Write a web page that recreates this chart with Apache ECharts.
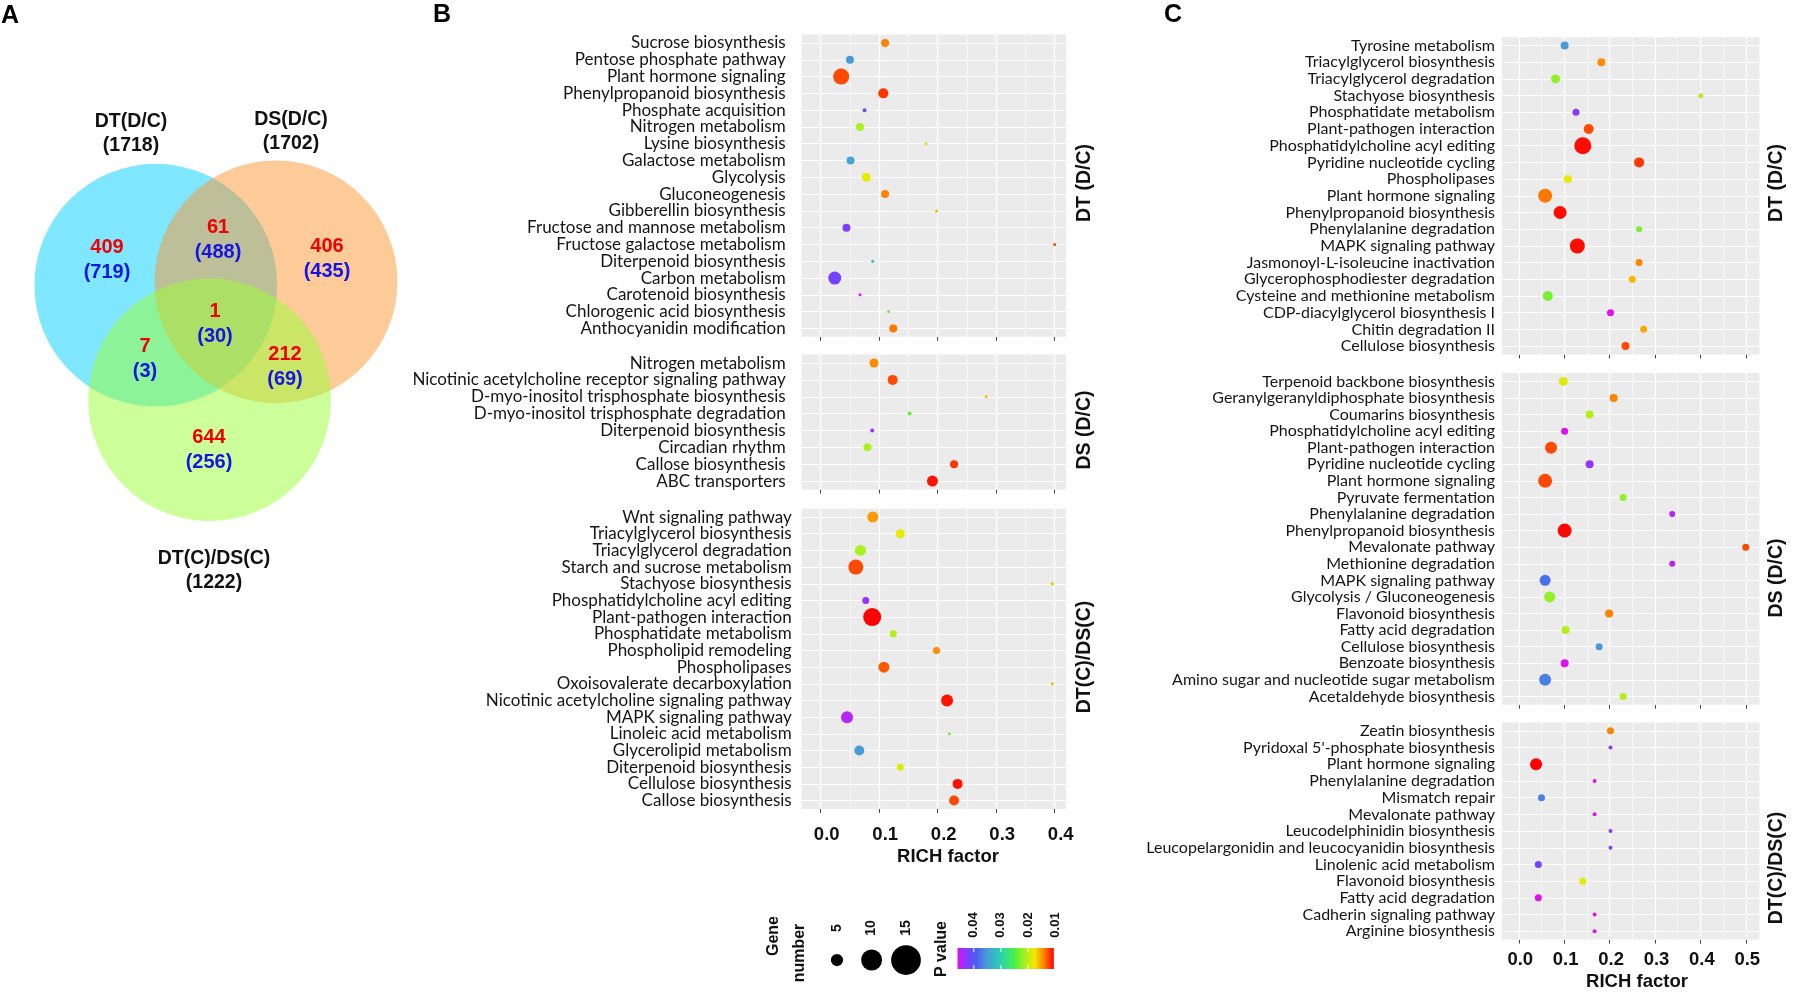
<!DOCTYPE html>
<html><head><meta charset="utf-8">
<script src="https://cdn.jsdelivr.net/npm/echarts@6/dist/echarts.min.js"></script>
<style>html,body{margin:0;padding:0;background:#fff}#c{width:1796px;height:994px}</style>
</head><body><div id="c"></div>
<script>
// ================= DATA =================
const vennSets = ['DT(D/C)', 'DS(D/C)', 'DT(C)/DS(C)'];
const vennTotals = [1718, 1702, 1222];
// regions: DT only, DT∩DS, DS only, DT∩DTC, all three, DS∩DTC, DTC only
const vennRed = [409, 61, 406, 7, 1, 212, 644];
const vennBlue = [719, 488, 435, 3, 30, 69, 256];

// Panel B - DT (D/C)
const bDTCats = ['Sucrose biosynthesis','Pentose phosphate pathway','Plant hormone signaling','Phenylpropanoid biosynthesis','Phosphate acquisition','Nitrogen metabolism','Lysine biosynthesis','Galactose metabolism','Glycolysis','Gluconeogenesis','Gibberellin biosynthesis','Fructose and mannose metabolism','Fructose galactose metabolism','Diterpenoid biosynthesis','Carbon metabolism','Carotenoid biosynthesis','Chlorogenic acid biosynthesis','Anthocyanidin modification'];
const bDTRich = [0.110,0.050,0.035,0.107,0.075,0.067,0.180,0.051,0.078,0.110,0.198,0.044,0.400,0.089,0.024,0.067,0.116,0.124];
const bDTGenes = [6,6,14,8,2,6,1,6,7,6,1,6,1,1,11,1,1,6];
const bDTP = [0.0142,0.0354,0.0125,0.012,0.0403,0.021,0.017,0.0343,0.018,0.0142,0.016,0.0425,0.0125,0.032,0.042,0.046,0.024,0.0138];

// Panel B - DS (D/C)
const bDSCats = ['Nitrogen metabolism','Nicotinic acetylcholine receptor signaling pathway','D-myo-inositol trisphosphate biosynthesis','D-myo-inositol trisphosphate degradation','Diterpenoid biosynthesis','Circadian rhythm','Callose biosynthesis','ABC transporters'];
const bDSRich = [0.091,0.123,0.283,0.152,0.088,0.080,0.228,0.191];
const bDSGenes = [7,8,1,2,2,6,6,9];
const bDSP = [0.0145,0.0125,0.016,0.024,0.0435,0.021,0.012,0.011];

// Panel B - DT(C)/DS(C)
const bCCats = ['Wnt signaling pathway','Triacylglycerol biosynthesis','Triacylglycerol degradation','Starch and sucrose metabolism','Stachyose biosynthesis','Phosphatidylcholine acyl editing','Plant-pathogen interaction','Phosphatidate metabolism','Phospholipid remodeling','Phospholipases','Oxoisovalerate decarboxylation','Nicotinic acetylcholine signaling pathway','MAPK signaling pathway','Linoleic acid metabolism','Glycerolipid metabolism','Diterpenoid biosynthesis','Cellulose biosynthesis','Callose biosynthesis'];
const bCRich = [0.089,0.136,0.068,0.060,0.396,0.077,0.088,0.124,0.198,0.108,0.396,0.216,0.045,0.220,0.066,0.136,0.234,0.228];
const bCGenes = [9,7,9,13,1,5,16,5,5,9,1,10,10,1,8,5,8,8];
const bCP = [0.015,0.018,0.021,0.0125,0.016,0.0435,0.0105,0.0205,0.0145,0.013,0.016,0.011,0.0446,0.024,0.0354,0.0185,0.011,0.0125];

// Panel C - DT (D/C)
const cDTCats = ['Tyrosine metabolism','Triacylglycerol biosynthesis','Triacylglycerol degradation','Stachyose biosynthesis','Phosphatidate metabolism','Plant-pathogen interaction','Phosphatidylcholine acyl editing','Pyridine nucleotide cycling','Phospholipases','Plant hormone signaling','Phenylpropanoid biosynthesis','Phenylalanine degradation','MAPK signaling pathway','Jasmonoyl-L-isoleucine inactivation','Glycerophosphodiester degradation','Cysteine and methionine metabolism','CDP-diacylglycerol biosynthesis I','Chitin degradation II','Cellulose biosynthesis'];
const cDTRich = [0.101,0.182,0.081,0.401,0.126,0.154,0.141,0.265,0.108,0.058,0.091,0.265,0.129,0.265,0.250,0.064,0.202,0.275,0.235];
const cDTGenes = [6,6,7,3,5,8,15,8,6,12,11,4,13,5,5,8,5,5,6];
const cDTP = [0.0354,0.0145,0.022,0.021,0.043,0.0125,0.0108,0.012,0.018,0.0138,0.0108,0.023,0.0108,0.0142,0.016,0.023,0.046,0.0155,0.0125];

// Panel C - DS (D/C)
const cDSCats = ['Terpenoid backbone biosynthesis','Geranylgeranyldiphosphate biosynthesis','Coumarins biosynthesis','Phosphatidylcholine acyl editing','Plant-pathogen interaction','Pyridine nucleotide cycling','Plant hormone signaling','Pyruvate fermentation','Phenylalanine degradation','Phenylpropanoid biosynthesis','Mevalonate pathway','Methionine degradation','MAPK signaling pathway','Glycolysis / Gluconeogenesis','Flavonoid biosynthesis','Fatty acid degradation','Cellulose biosynthesis','Benzoate biosynthesis','Amino sugar and nucleotide sugar metabolism','Acetaldehyde biosynthesis'];
const cDSRich = [0.098,0.209,0.156,0.101,0.071,0.156,0.058,0.230,0.338,0.101,0.500,0.338,0.058,0.068,0.199,0.103,0.177,0.101,0.058,0.230];
const cDSGenes = [7,6,6,5,10,6,12,5,4,12,5,4,9,9,6,6,5,6,10,5];
const cDSP = [0.0185,0.0142,0.0205,0.046,0.0125,0.0435,0.0125,0.022,0.0446,0.0106,0.0125,0.0446,0.038,0.022,0.0142,0.0205,0.0354,0.046,0.037,0.0205];

// Panel C - DT(C)/DS(C)
const cCCats = ['Zeatin biosynthesis',"Pyridoxal 5'-phosphate biosynthesis",'Plant hormone signaling','Phenylalanine degradation','Mismatch repair','Mevalonate pathway','Leucodelphinidin biosynthesis','Leucopelargonidin and leucocyanidin biosynthesis','Linolenic acid metabolism','Flavonoid biosynthesis','Fatty acid degradation','Cadherin signaling pathway','Arginine biosynthesis'];
const cCRich = [0.202,0.202,0.038,0.167,0.050,0.167,0.202,0.202,0.043,0.141,0.043,0.167,0.167];
const cCGenes = [5,2,10,2,5,2,2,2,5,5,5,2,2];
const cCP = [0.0142,0.0435,0.0105,0.046,0.037,0.046,0.043,0.043,0.042,0.018,0.046,0.046,0.046];

const bTicks = [0, 0.1, 0.2, 0.3, 0.4];
const cTicks = [0, 0.1, 0.2, 0.3, 0.4, 0.5];
const sizeBreaks = [5, 10, 15];
const pBreaks = [0.04, 0.03, 0.02, 0.01];
const stripLabels = ['DT (D/C)', 'DS (D/C)', 'DT(C)/DS(C)'];

// ================= STYLE / LAYOUT =================
const P_MIN = 0.0105, P_MAX = 0.046;
const pColors = ['#FF0000','#FF7F00','#F0E800','#A8F020','#50F040','#30E090','#30C0C0','#4A9BD8','#4A60F0','#7B3FFF','#E010F0'];
const BOLD = "'Liberation Sans Narrow', 'Liberation Sans', Arial, sans-serif";
const SANS = "'Liberation Sans', Arial, sans-serif";
const symSize = v => 2 + v[2];

const panels = [
  {cats:bDTCats, rich:bDTRich, genes:bDTGenes, p:bDTP, left:801.7, width:264.3, top:34.6, height:302.2, min:-0.0325, max:0.4193, ticks:bTicks, showX:false, fs:17, ym:16, xm:17, pad:12},
  {cats:bDSCats, rich:bDSRich, genes:bDSGenes, p:bDSP, left:801.7, width:264.3, top:354.6, height:134.9, min:-0.0325, max:0.4193, ticks:bTicks, showX:false, fs:17, ym:16, xm:17, pad:12},
  {cats:bCCats, rich:bCRich, genes:bCGenes, p:bCP, left:801.7, width:264.3, top:508.7, height:300.2, min:-0.0325, max:0.4193, ticks:bTicks, showX:true, fs:17, ym:10, xm:17, pad:12},
  {cats:cDTCats, rich:cDTRich, genes:cDTGenes, p:cDTP, left:1502, width:257.4, top:37.2, height:317.2, min:-0.037, max:0.530, ticks:cTicks, showX:false, fs:16, ym:7, xm:11, pad:3},
  {cats:cDSCats, rich:cDSRich, genes:cDSGenes, p:cDSP, left:1502, width:257.4, top:373.1, height:331.6, min:-0.037, max:0.530, ticks:cTicks, showX:false, fs:16, ym:7, xm:11, pad:3},
  {cats:cCCats, rich:cCRich, genes:cCGenes, p:cCP, left:1502, width:257.4, top:722.5, height:217.1, min:-0.037, max:0.530, ticks:cTicks, showX:true, fs:16, ym:7, xm:11, pad:3}
];

function gridLines(p) {
  const d = [];
  p.ticks.forEach(v => d.push({xAxis: v, lineStyle:{width:1.3}}));
  p.ticks.forEach(v => { if (v + 0.05 < p.max) d.push({xAxis: +(v + 0.05).toFixed(2), lineStyle:{width:0.6}}); });
  p.cats.forEach(c => d.push({yAxis: c, lineStyle:{width:1.1}}));
  return d;
}

const option = {
  animation: false,
  backgroundColor: '#fff',
  grid: panels.map(p => ({left:p.left, top:p.top, width:p.width, height:p.height, show:true, backgroundColor:'#EBEBEB', borderWidth:0, containLabel:false})),
  xAxis: panels.map((p, i) => ({
    type:'value', gridIndex:i, min:p.min, max:p.max,
    axisLine:{show:false},
    axisTick:{show:true, customValues:p.ticks, length:4, lineStyle:{color:'#444', width:1}},
    axisLabel:{show:p.showX, customValues:p.ticks, formatter:v => v.toFixed(1), margin:p.xm, padding:[0,0,0,p.pad], fontFamily:BOLD, fontWeight:'bold', fontSize:18.5, color:'#111'},
    splitLine:{show:false}
  })),
  yAxis: panels.map((p, i) => ({
    type:'category', gridIndex:i, data:p.cats, inverse:true,
    axisLine:{show:false},
    axisTick:{show:true, alignWithLabel:true, length:4, lineStyle:{color:'#444', width:1}},
    axisLabel:{interval:0, margin:p.ym, fontFamily:'Lato', fontSize:p.fs, color:'#151515'},
    splitLine:{show:false}
  })),
  visualMap: {type:'continuous', show:false, dimension:3, min:P_MIN, max:P_MAX, seriesIndex:[0,1,2,3,4,5], inRange:{color:pColors}},
  series: panels.map((p, i) => ({
    type:'scatter', xAxisIndex:i, yAxisIndex:i, z:3,
    data: p.cats.map((c, j) => [p.rich[j], c, p.genes[j], p.p[j]]),
    symbolSize: symSize,
    itemStyle:{opacity:1},
    markLine:{silent:true, z:1, symbol:['none','none'], label:{show:false}, animation:false,
      lineStyle:{color:'#ffffff', type:'solid'}, data: gridLines(p)}
  })),
  graphic: []
};

// ---------- Venn (panel A) ----------
const G = option.graphic;
const circ = [
  {cx:155.8, cy:285.2, r:121.4, fill:'rgba(0,208,255,0.5)'},
  {cx:276, cy:281.8, r:121.4, fill:'rgba(251,151,49,0.5)'},
  {cx:209.6, cy:399.7, r:121.4, fill:'rgba(153,255,51,0.5)'}
];
circ.forEach(c => G.push({type:'circle', shape:{cx:c.cx, cy:c.cy, r:c.r}, style:{fill:c.fill}, silent:true}));
const txt = (x, y, text, font, color, size, rot, align) => G.push({type:'text', x:x, y:y, rotation:rot||0, silent:true, z:10,
  style:{text:text, x:0, y:0, align:align||'center', verticalAlign:'middle', font:'bold ' + size + 'px ' + font, fill:color}});
const setPos = [[131,122],[291,120],[214,559]];
vennSets.forEach((s, i) => { txt(setPos[i][0], setPos[i][1], s, SANS, '#111', 19.5); txt(setPos[i][0], setPos[i][1] + 24, '(' + vennTotals[i] + ')', SANS, '#111', 19.5); });
const regPos = [[107,247],[218,227],[327,246],[145,346],[215,311],[285,354],[209,437]];
regPos.forEach((p, i) => { txt(p[0], p[1], String(vennRed[i]), SANS, '#F00000', 20); txt(p[0], p[1] + 25, '(' + vennBlue[i] + ')', SANS, '#1414E6', 20); });

// ---------- panel letters ----------
txt(10, 16, 'A', SANS, '#000', 25);
txt(442, 15, 'B', SANS, '#000', 25);
txt(1173, 15, 'C', SANS, '#000', 25);

// ---------- axis titles ----------
txt(948, 857, 'RICH factor', BOLD, '#111', 18.5);
txt(1637, 982, 'RICH factor', BOLD, '#111', 18.5);

// ---------- strip labels ----------
const R90 = Math.PI / 2;
[[1085,183],[1085,430],[1085,657]].forEach((p, i) => txt(p[0], p[1], stripLabels[i], SANS, '#111', 19.5, R90));
[[1777,183],[1777,578],[1777,868]].forEach((p, i) => txt(p[0], p[1], stripLabels[i], SANS, '#111', 19.5, R90));

// ---------- legend (panel B bottom) ----------
txt(774, 936, 'Gene', SANS, '#111', 16, R90);
txt(800, 953, 'number', SANS, '#111', 16, R90);
const lx = [837, 871.6, 906];
sizeBreaks.forEach((n, i) => {
  const d = 1.75 * symSize([0, 0, n]);
  G.push({type:'circle', shape:{cx:lx[i], cy:960, r:d / 2}, style:{fill:'#000'}, silent:true});
  txt(lx[i], 928, String(n), SANS, '#111', 14, R90);
});
txt(941.5, 949, 'P value', SANS, '#111', 16, R90);
const barL = 957.5, barW = 96.3, barT = 948, barH = 21;
G.push({type:'rect', shape:{x:barL, y:barT, width:barW, height:barH}, silent:true,
  style:{fill:new echarts.graphic.LinearGradient(0, 0, 1, 0, pColors.slice().reverse().map((c, k) => ({offset:k / (pColors.length - 1), color:c})))}});
pBreaks.forEach(p => {
  const x = barL + (P_MAX - p) / (P_MAX - P_MIN) * barW;
  G.push({type:'line', shape:{x1:x, y1:barT, x2:x, y2:barT + 4}, style:{stroke:'#fff', lineWidth:1}, silent:true});
  G.push({type:'line', shape:{x1:x, y1:barT + barH - 4, x2:x, y2:barT + barH}, style:{stroke:'#fff', lineWidth:1}, silent:true});
  txt(x, 925, p.toFixed(2), SANS, '#111', 13, R90);
});

const chart = echarts.init(document.getElementById('c'), null, {renderer:'canvas'});
chart.setOption(option);
</script></body></html>
